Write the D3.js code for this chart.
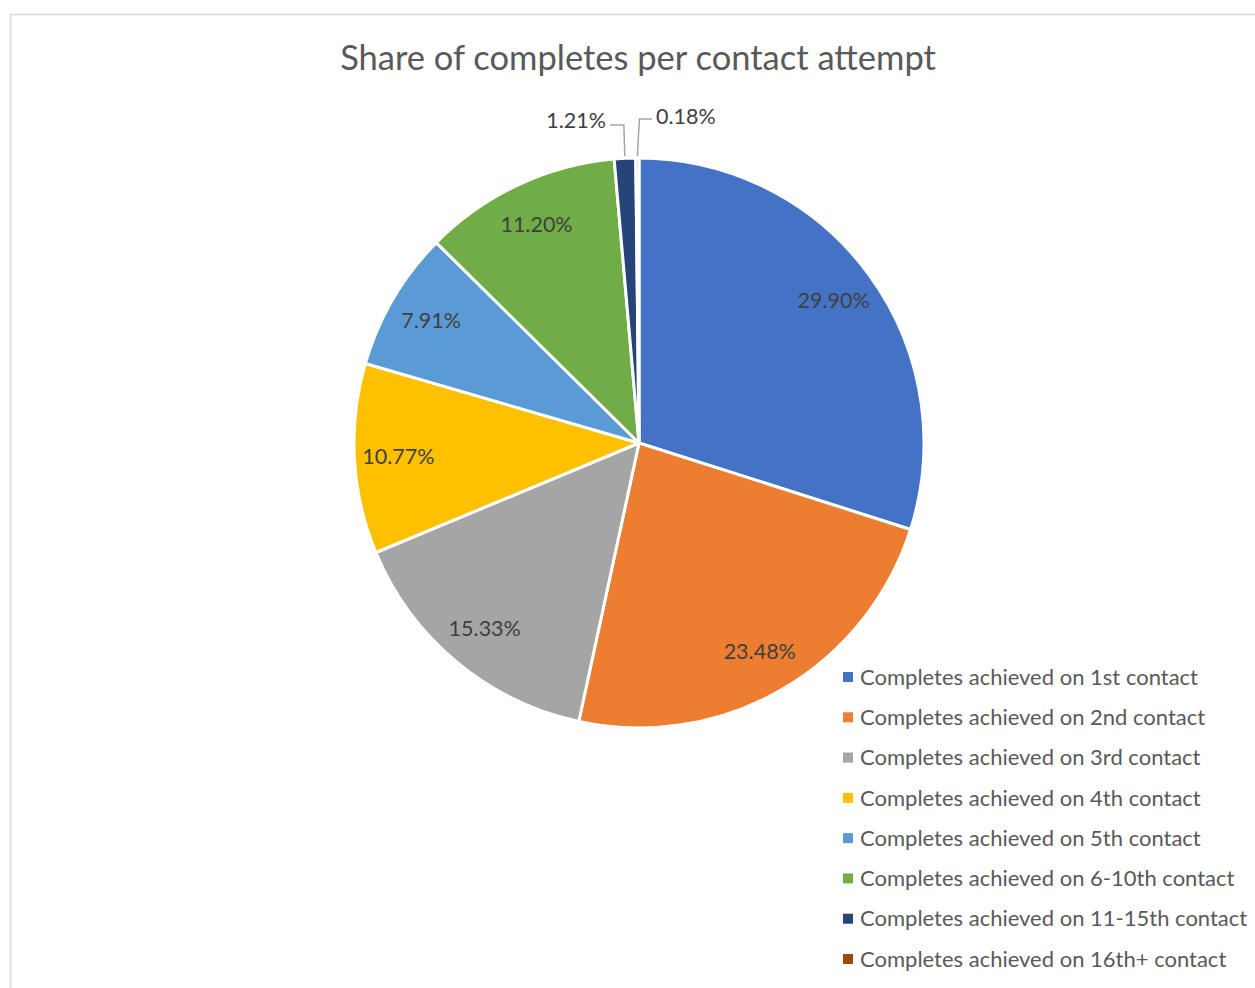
<!DOCTYPE html>
<html>
<head>
<meta charset="utf-8">
<script src="https://cdn.jsdelivr.net/npm/d3@7"></script>
<style>
  html, body { margin: 0; padding: 0; background: #fff; }
  svg { display: block; }
</style>
</head>
<body>
<svg id="chart" width="1255" height="988"></svg>
<script>
// Contact-attempt buckets and their share of completed interviews (%)
const categories = [
  "Completes achieved on 1st contact",
  "Completes achieved on 2nd contact",
  "Completes achieved on 3rd contact",
  "Completes achieved on 4th contact",
  "Completes achieved on 5th contact",
  "Completes achieved on 6-10th contact",
  "Completes achieved on 11-15th contact",
  "Completes achieved on 16th+ contact"
];
const shares = [29.90, 23.48, 15.33, 10.77, 7.91, 11.20, 1.21, 0.18];
const colors = ["#4472C4", "#ED7D31", "#A5A5A5", "#FFC000", "#5B9BD5", "#70AD47", "#264478", "#9E480E"];
const title = "Share of completes per contact attempt";

const FONT = "Lato, 'Open Sans', sans-serif";
const svg = d3.select("#chart");

// Chart area frame
svg.append("rect")
  .attr("x", 10.5).attr("y", 14.5)
  .attr("width", 1300).attr("height", 1000)
  .attr("fill", "#fff").attr("stroke", "#d9d9d9").attr("stroke-width", 1.5);

// Title
svg.append("text")
  .attr("x", 638).attr("y", 70)
  .attr("text-anchor", "middle")
  .attr("font-family", FONT).attr("font-size", 34.5)
  .attr("fill", "#595959")
  .text(title);

const cx = 639, cy = 443, R = 285;
const data = categories.map((c, i) => ({ name: c, value: shares[i], color: colors[i] }));

const pie = d3.pie().value(d => d.value).sort(null);
const arcs = pie(data);
const arc = d3.arc().innerRadius(0).outerRadius(R);
const labelArc = d3.arc().innerRadius(241).outerRadius(241);

const g = svg.append("g").attr("transform", `translate(${cx},${cy})`);

g.selectAll("path.slice")
  .data(arcs)
  .join("path")
  .attr("class", "slice")
  .attr("d", arc)
  .attr("fill", d => d.data.color)
  .attr("stroke", "#fff")
  .attr("stroke-width", 3)
  .attr("stroke-linejoin", "round");

const fmt = v => v.toFixed(2) + "%";

// Inside labels for the larger slices
g.selectAll("text.inlabel")
  .data(arcs.filter(d => d.data.value >= 5))
  .join("text")
  .attr("class", "inlabel")
  .attr("transform", d => `translate(${labelArc.centroid(d)})`)
  .attr("text-anchor", "middle")
  .attr("dy", "0.35em")
  .attr("font-family", FONT).attr("font-size", 21.5)
  .attr("fill", "#404040")
  .text(d => fmt(d.data.value));

// Small slices get outside labels with elbow leader lines
const small = arcs.filter(d => d.data.value < 5);
const outerPt = d => {
  const a = (d.startAngle + d.endAngle) / 2;
  return [Math.sin(a) * (R + 2), -Math.cos(a) * (R + 2)];
};
const leaderSpec = [
  { labelX: -34, labelY: -323, lineY: -318, side: "end" },
  { labelX: 18, labelY: -327, lineY: -324, side: "start" }
];
small.forEach((d, i) => {
  const s = leaderSpec[i];
  const [px, py] = outerPt(d);
  const elbowX = px + (s.side === "end" ? -1 : 2);
  g.append("path")
    .attr("d", `M${s.side === "end" ? s.labelX + 5 : s.labelX - 5},${s.lineY} L${elbowX},${s.lineY} L${px},${py}`)
    .attr("fill", "none").attr("stroke", "#a6a6a6").attr("stroke-width", 1.5);
  g.append("text")
    .attr("x", s.side === "end" ? s.labelX + 1 : s.labelX - 1)
    .attr("y", s.labelY)
    .attr("text-anchor", s.side)
    .attr("dy", "0.35em")
    .attr("font-family", FONT).attr("font-size", 21.5)
    .attr("fill", "#404040")
    .text(fmt(d.data.value));
});

// Legend
const legendY = d3.scalePoint().domain(categories).range([677, 959]);
const legend = svg.append("g");
const items = legend.selectAll("g").data(data).join("g")
  .attr("transform", d => `translate(843,${legendY(d.name)})`);
items.append("rect")
  .attr("x", 0).attr("y", -5).attr("width", 10).attr("height", 10)
  .attr("fill", d => d.color);
items.append("text")
  .attr("x", 17).attr("dy", "0.35em")
  .attr("font-family", FONT).attr("font-size", 22)
  .attr("fill", "#595959")
  .text(d => d.name);
</script>
</body>
</html>
